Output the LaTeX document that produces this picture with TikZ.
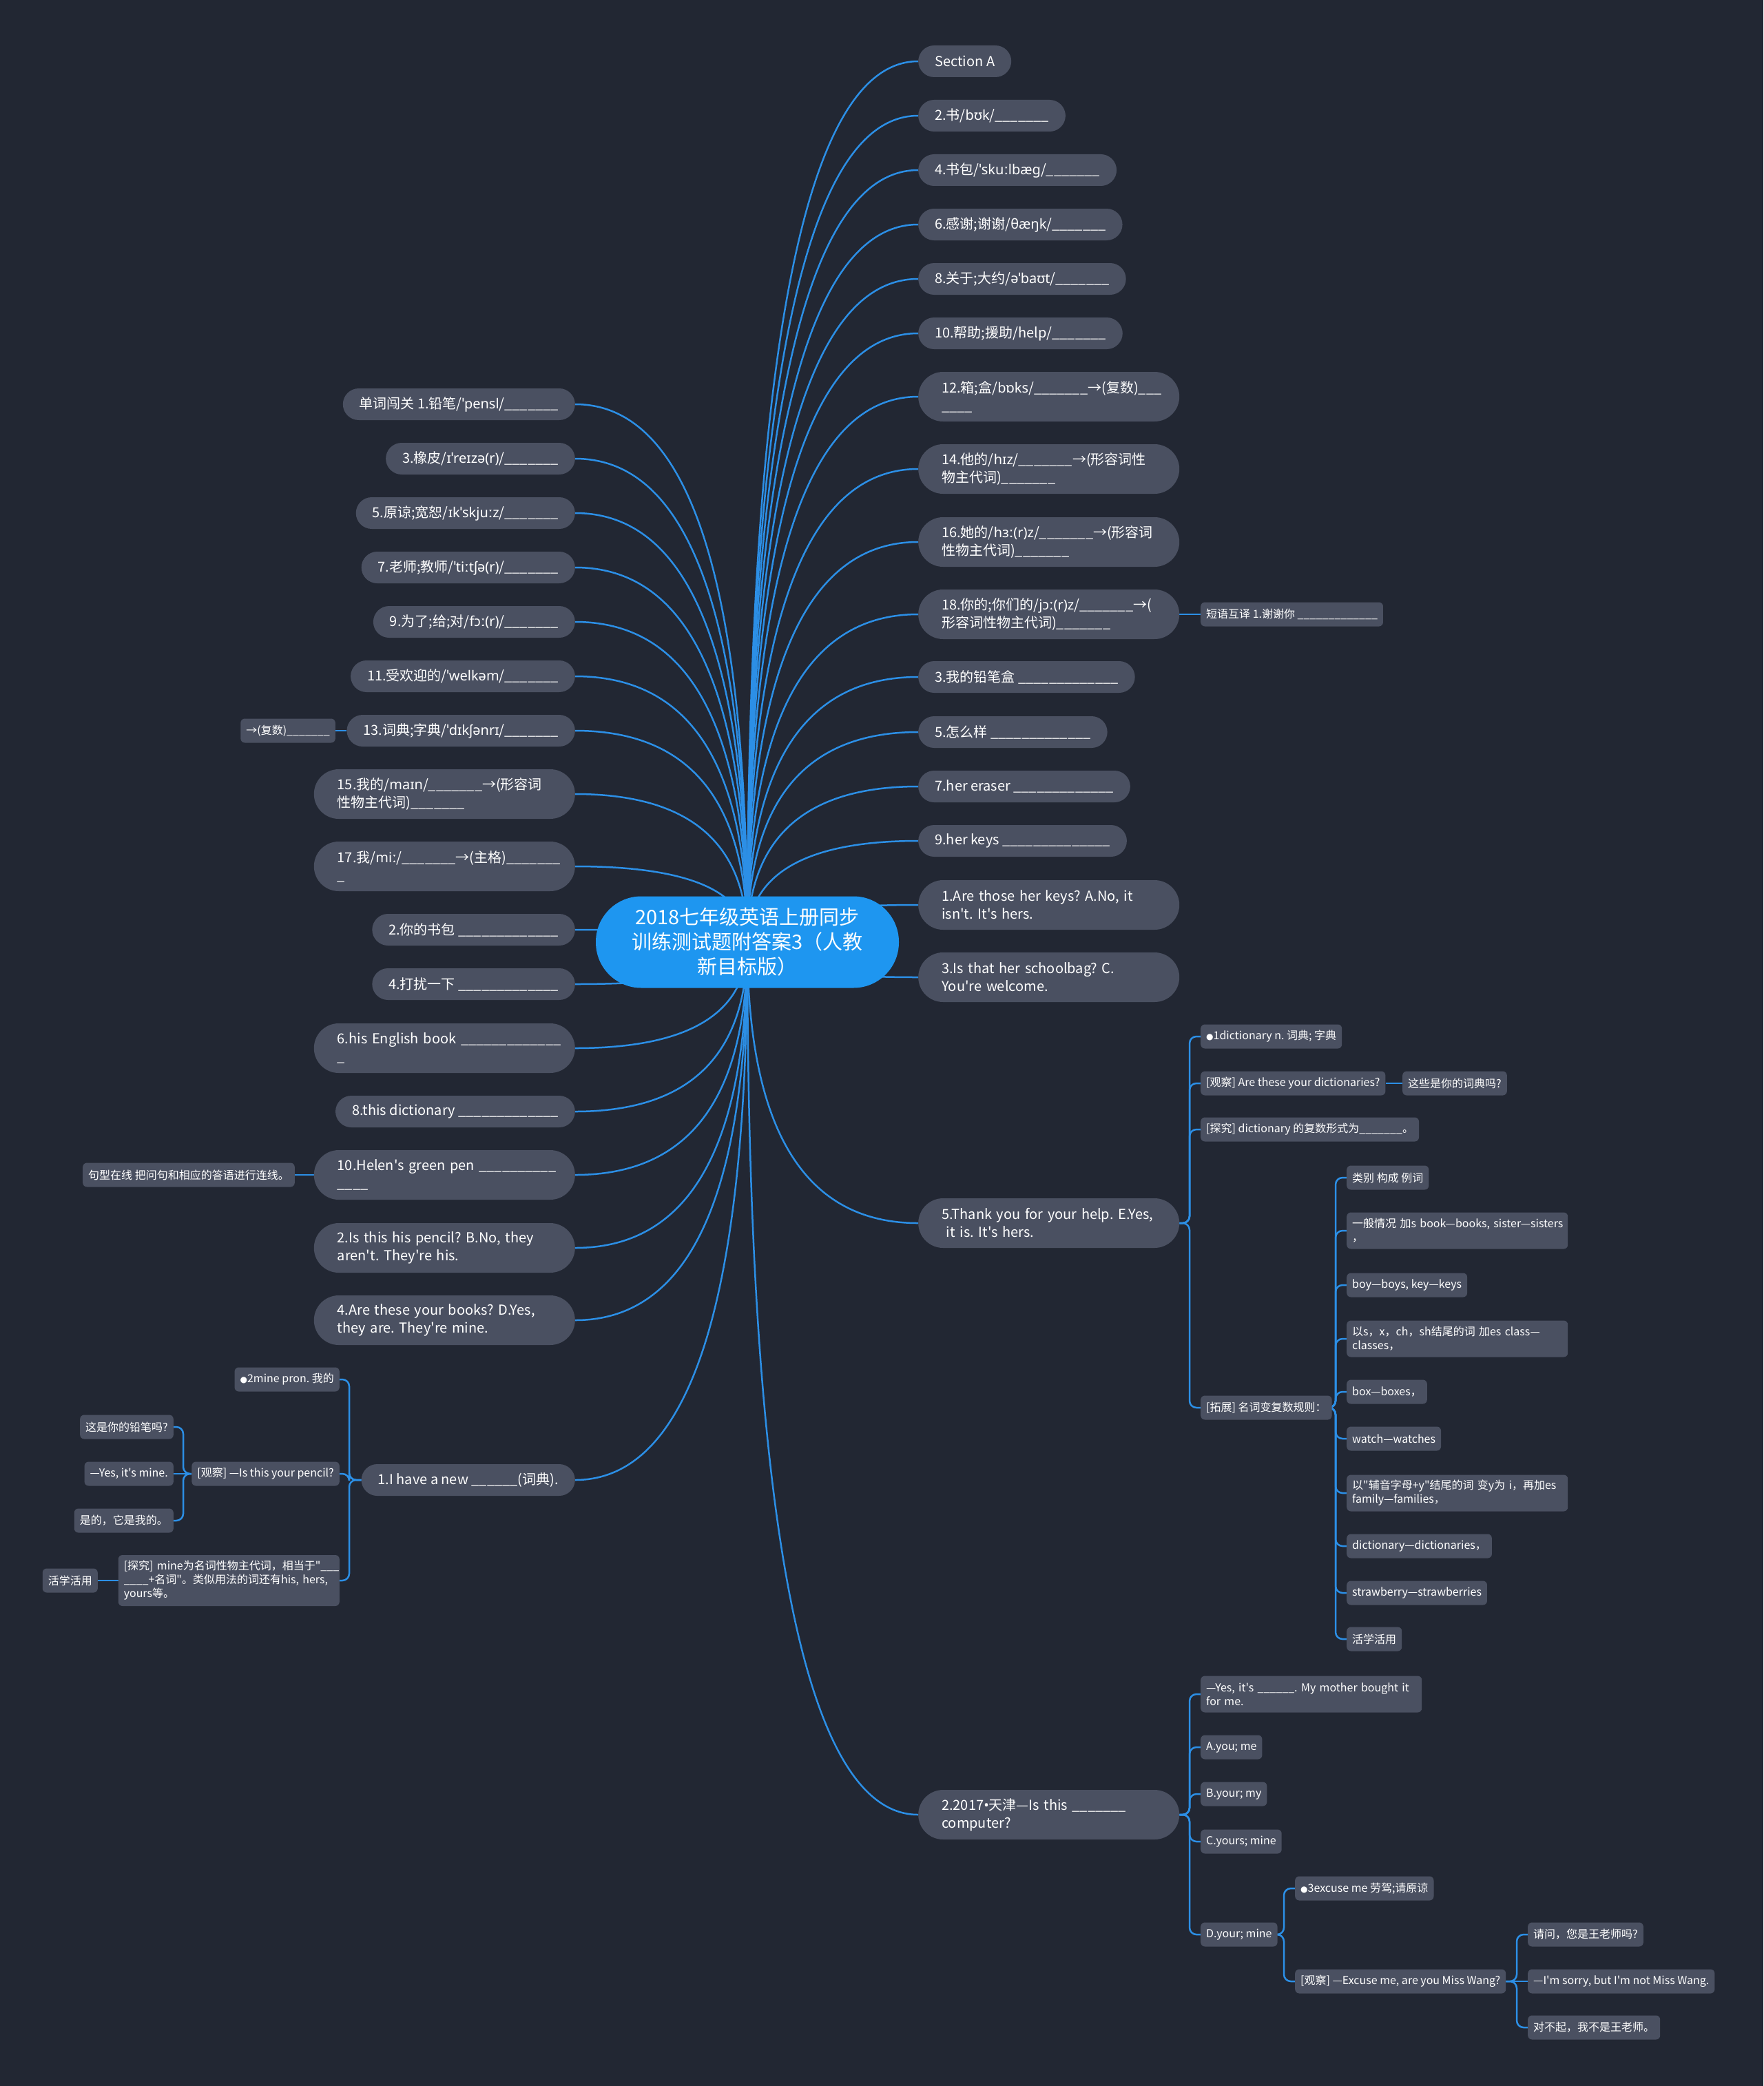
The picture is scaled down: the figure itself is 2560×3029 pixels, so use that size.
\documentclass[tikz,border=0pt]{standalone}
\usepackage{fontspec}
\setmainfont{Noto Sans CJK SC}[Ligatures=TeXOff]
\newfontfamily\ipafont{Noto Sans}[Ligatures=TeXOff]
\newfontfamily\symfont{DejaVu Sans}
\usetikzlibrary{calc}
\definecolor{bgc}{HTML}{222733}
\definecolor{nodec}{HTML}{4A5061}
\definecolor{rootc}{HTML}{1E96F0}
\definecolor{linec}{HTML}{2C8FE6}
\newcommand\ip[1]{{\ipafont #1}}
\newcommand\dotb{{\symfont\fontsize{12}{12}\selectfont ●}}
\newcommand\midd{{\ipafont •}}
\newcommand\usv{\_\_\_\_\_\_\_}
\newcommand\ust{\_\_\_\_\_\_\_\_\_\_\_\_\_}
\newcommand\toR[1]{\draw[conn] (R.center) .. controls ($(R.center)!0.667!(R.center|-#1.west)$) and ($(#1.west)!0.667!(R.center|-#1.west)$) .. (#1.west);}
\newcommand\toL[1]{\draw[conn] (R.center) .. controls ($(R.center)!0.667!(R.center|-#1.east)$) and ($(#1.east)!0.667!(R.center|-#1.east)$) .. (#1.east);}
\newcommand\elR[2]{\draw[elb] (#1.east) -| ($(#2.west)+(-16,0)$) -- (#2.west);}
\newcommand\elL[2]{\draw[elb] (#1.west) -| ($(#2.east)+(14,0)$) -- (#2.east);}
\newcommand\stR[2]{\draw[conn] (#1.east) -- (#2.west);}
\newcommand\stL[2]{\draw[conn] (#1.west) -- (#2.east);}
\pgfdeclarelayer{back}
\pgfdeclarelayer{lines}
\pgfsetlayers{back,lines,main}
\tikzset{
 lone/.style={fill=nodec, text=white, rounded corners=23pt, minimum height=46pt, inner xsep=24pt, inner ysep=0pt, font=\fontsize{20}{26}\selectfont},
 ltwo/.style={lone, rounded corners=36pt, minimum height=72pt, inner xsep=34pt, text width=311pt, align=left},
 sm/.style={fill=nodec, text=white, rounded corners=6pt, minimum height=35pt, inner xsep=8pt, inner ysep=0pt, font=\fontsize{16}{20}\selectfont},
 smm/.style={sm, text width=305pt, align=left, minimum height=53pt},
 rootn/.style={fill=rootc, text=white, rounded corners=66pt, minimum width=440pt, minimum height=133pt, align=center, font=\fontsize{29}{36}\selectfont},
 conn/.style={draw=linec, line width=2.5pt},
 elb/.style={conn, rounded corners=10pt},
}
\begin{document}
\frenchspacing
\begin{tikzpicture}[x=1pt,y=-1pt]
\begin{pgfonlayer}{back}
\fill[bgc] (0,0) rectangle (2560,3029);
\end{pgfonlayer}
\useasboundingbox (0,0) rectangle (2560,3029);

% root
\node[rootn] (R) at (1085,1368) {2018七年级英语上册同步\\训练测试题附答案3（人教\\新目标版）};

% right level 1
\node[lone, anchor=west] (r1) at (1333,89) {Section A};
\node[lone, anchor=west] (r2) at (1333,168) {2.书/\ip{bʊk}/\usv};
\node[lone, anchor=west] (r3) at (1333,247) {4.书包/\ip{ˈskuːlbæg}/\usv};
\node[lone, anchor=west] (r4) at (1333,326) {6.感谢;谢谢/\ip{θæŋk}/\usv};
\node[lone, anchor=west] (r5) at (1333,405) {8.关于;大约/\ip{əˈbaʊt}/\usv};
\node[lone, anchor=west] (r6) at (1333,484) {10.帮助;援助/help/\usv};
\node[ltwo, anchor=west] (r7) at (1333,576) {\mbox{12.箱;盒/\ip{bɒks}/\usv→(复数)\_\_\_}\\\_\_\_\_};
\node[ltwo, anchor=west] (r8) at (1333,681) {\mbox{14.他的/\ip{hɪz}/\usv→(形容词性}\\物主代词)\usv};
\node[ltwo, anchor=west] (r9) at (1333,787) {\mbox{16.她的/\ip{hɜː(r)z}/\usv→(形容词}\\性物主代词)\usv};
\node[ltwo, anchor=west] (r10) at (1333,892) {\mbox{18.你的;你们的/\ip{jɔː(r)z}/\usv→(}\\形容词性物主代词)\usv};
\node[lone, anchor=west] (r11) at (1333,983) {3.我的铅笔盒 \ust};
\node[lone, anchor=west] (r12) at (1333,1063) {5.怎么样 \ust};
\node[lone, anchor=west] (r13) at (1333,1142) {7.her eraser \ust};
\node[lone, anchor=west] (r14) at (1333,1221) {9.her keys \ust\_};
\node[ltwo, anchor=west] (r15) at (1333,1314) {\mbox{1.Are those her keys? A.No, it}\\isn't. It's hers.};
\node[ltwo, anchor=west] (r16) at (1333,1419) {\mbox{3.Is that her schoolbag? C.}\\You're welcome.};
\node[ltwo, anchor=west] (r17) at (1333,1776) {\mbox{5.Thank you for your help. E.Yes,}\\\mbox{ it is. It's hers.}};
\node[ltwo, anchor=west] (r18) at (1333,2635) {\mbox{2.2017\midd 天津—Is this \usv}\\computer?};

% left level 1
\node[lone, anchor=east] (l1) at (835,587) {单词闯关 1.铅笔/\ip{ˈpensl}/\usv};
\node[lone, anchor=east] (l2) at (835,666) {3.橡皮/\ip{ɪˈreɪzə(r)}/\usv};
\node[lone, anchor=east] (l3) at (835,745) {5.原谅;宽恕/\ip{ɪkˈskjuːz}/\usv};
\node[lone, anchor=east] (l4) at (835,824) {7.老师;教师/\ip{ˈtiːtʃə(r)}/\usv};
\node[lone, anchor=east] (l5) at (835,903) {9.为了;给;对/\ip{fɔː(r)}/\usv};
\node[lone, anchor=east] (l6) at (835,982) {11.受欢迎的/\ip{ˈwelkəm}/\usv};
\node[lone, anchor=east] (l7) at (835,1061) {13.词典;字典/\ip{ˈdɪkʃənrɪ}/\usv};
\node[ltwo, anchor=east] (l8) at (835,1153) {\mbox{15.我的/\ip{maɪn}/\usv→(形容词}\\性物主代词)\usv};
\node[ltwo, anchor=east] (l9) at (835,1258) {\mbox{17.我/\ip{miː}/\usv→(主格)\usv}\\\_};
\node[lone, anchor=east] (l10) at (835,1350) {2.你的书包 \ust};
\node[lone, anchor=east] (l11) at (835,1429) {4.打扰一下 \ust};
\node[ltwo, anchor=east] (l12) at (835,1522) {\mbox{6.his English book \ust}\\\_};
\node[lone, anchor=east] (l13) at (835,1614) {8.this dictionary \ust};
\node[ltwo, anchor=east] (l14) at (835,1706) {\mbox{10.Helen's green pen \_\_\_\_\_\_\_\_\_\_}\\\_\_\_\_};
\node[ltwo, anchor=east] (l15) at (835,1812) {\mbox{2.Is this his pencil? B.No, they}\\aren't. They're his.};
\node[ltwo, anchor=east] (l16) at (835,1917) {\mbox{4.Are these your books? D.Yes,}\\they are. They're mine.};
\node[lone, anchor=east] (l17) at (835,2149) {1.I have a new \_\_\_\_\_\_(词典).};

% left sub nodes
\node[sm, anchor=east] (sl7) at (487,1061) {→(复数)\usv};
\node[sm, anchor=east] (sl14) at (428,1706) {句型在线 把问句和相应的答语进行连线。};
\node[sm, anchor=east] (a1) at (493,2003) {\dotb 2mine pron. 我的};
\node[sm, anchor=east] (a2) at (493,2140) {[观察] —Is this your pencil?};
\node[sm, anchor=east] (a21) at (252,2072) {这是你的铅笔吗?};
\node[sm, anchor=east] (a22) at (252,2140) {—Yes, it's mine.};
\node[sm, anchor=east] (a23) at (252,2208) {是的，它是我的。};
\node[smm, anchor=east, minimum height=74pt] (a3) at (493,2295) {\mbox{[探究] mine为名词性物主代词，相当于"\_\_\_}\\\mbox{\_\_\_\_+名词"。类似用法的词还有his, hers,}\\yours等。};
\node[sm, anchor=east] (a31) at (142,2295) {活学活用};

% right sub nodes
\node[sm, anchor=west] (sr10) at (1743,892) {短语互译 1.谢谢你 \ust};
\node[sm, anchor=west] (b1) at (1743,1505) {\dotb 1dictionary n. 词典; 字典};
\node[sm, anchor=west] (b2) at (1743,1573) {[观察] Are these your dictionaries?};
\node[sm, anchor=west] (b21) at (2036,1573) {这些是你的词典吗?};
\node[sm, anchor=west] (b3) at (1743,1640) {[探究] dictionary 的复数形式为\usv。};
\node[sm, anchor=west] (b4) at (1743,2044) {[拓展] 名词变复数规则：};
\node[sm, anchor=west] (c1) at (1955,1710) {类别 构成 例词};
\node[smm, anchor=west] (c2) at (1955,1787) {\mbox{一般情况 加s book—books, sister—sisters}\\，};
\node[sm, anchor=west] (c3) at (1955,1866) {boy—boys, key—keys};
\node[smm, anchor=west] (c4) at (1955,1944) {\mbox{以s，x，ch，sh结尾的词 加es class—}\\classes，};
\node[sm, anchor=west] (c5) at (1955,2021) {box—boxes，};
\node[sm, anchor=west] (c6) at (1955,2089) {watch—watches};
\node[smm, anchor=west] (c7) at (1955,2168) {\mbox{以"辅音字母+y"结尾的词 变y为 i，再加es}\\family—families，};
\node[sm, anchor=west] (c8) at (1955,2245) {dictionary—dictionaries，};
\node[sm, anchor=west] (c9) at (1955,2313) {strawberry—strawberries};
\node[sm, anchor=west] (c10) at (1955,2380) {活学活用};
\node[smm, anchor=west] (d1) at (1743,2460) {\mbox{—Yes, it's \_\_\_\_\_\_. My mother bought it}\\for me.};
\node[sm, anchor=west] (d2) at (1743,2537) {A.you; me};
\node[sm, anchor=west] (d3) at (1743,2605) {B.your; my};
\node[sm, anchor=west] (d4) at (1743,2674) {C.yours; mine};
\node[sm, anchor=west] (d5) at (1743,2809) {D.your; mine};
\node[sm, anchor=west] (e1) at (1880,2742) {\dotb 3excuse me 劳驾;请原谅};
\node[sm, anchor=west] (e2) at (1880,2877) {[观察] —Excuse me, are you Miss Wang?};
\node[sm, anchor=west] (f1) at (2218,2809) {请问，您是王老师吗?};
\node[sm, anchor=west] (f2) at (2218,2877) {—I'm sorry, but I'm not Miss Wang.};
\node[sm, anchor=west] (f3) at (2218,2944) {对不起，我不是王老师。};

\begin{pgfonlayer}{lines}
\foreach \n in {r1,r2,r3,r4,r5,r6,r7,r8,r9,r10,r11,r12,r13,r14,r15,r16,r17,r18} {\toR{\n}}
\foreach \n in {l1,l2,l3,l4,l5,l6,l7,l8,l9,l10,l11,l12,l13,l14,l15,l16,l17} {\toL{\n}}
\stL{l7}{sl7}
\stL{l14}{sl14}
\elL{l17}{a1}
\elL{l17}{a2}
\elL{l17}{a3}
\elL{a2}{a21}
\stL{a2}{a22}
\elL{a2}{a23}
\stL{a3}{a31}
\stR{r10}{sr10}
\foreach \n in {b1,b2,b3,b4} {\elR{r17}{\n}}
\stR{b2}{b21}
\foreach \n in {c1,c2,c3,c4,c5,c6,c7,c8,c9,c10} {\elR{b4}{\n}}
\foreach \n in {d1,d2,d3,d4,d5} {\elR{r18}{\n}}
\elR{d5}{e1}
\elR{d5}{e2}
\elR{e2}{f1}
\stR{e2}{f2}
\elR{e2}{f3}
\end{pgfonlayer}
\end{tikzpicture}
\end{document}
